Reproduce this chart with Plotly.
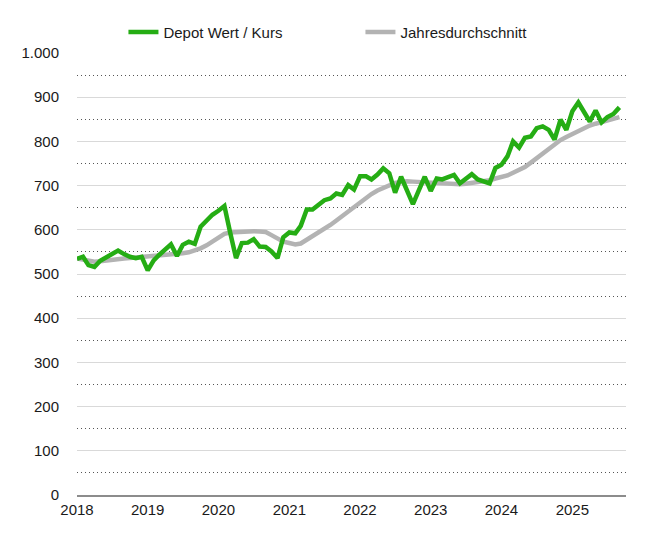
import pandas as pd
import plotly.graph_objects as go

# Monthly dates Jan 2018 .. Sep 2025
months = pd.date_range("2018-01-01", "2025-09-01", freq="MS")

depot = [
    # 2018
    534, 539, 520, 516, 530, 537, 545, 553, 545, 539, 536, 539,
    # 2019
    508, 531, 543, 555, 567, 541, 566, 573, 568, 607, 622, 634,
    # 2020
    643, 654, 595, 536, 570, 571, 579, 562, 561, 551, 536, 583,
    # 2021
    594, 592, 609, 646, 646, 658, 667, 671, 682, 679, 701, 691,
    # 2022
    721, 721, 714, 725, 739, 728, 684, 720, 690, 658, 690, 720,
    # 2023
    688, 716, 714, 718, 724, 705, 714, 726, 714, 709, 705, 740,
    # 2024
    747, 766, 800, 786, 808, 811, 830, 834, 826, 804, 849, 826,
    # 2025
    868, 888, 868, 845, 870, 843, 855, 862, 877,
]

jahresdurchschnitt = [
    # 2018
    535, 532, 529, 528, 529, 531, 532, 534, 535, 536, 537, 538,
    # 2019
    539, 541, 543, 544, 545, 546, 547, 549, 553, 558, 565, 573,
    # 2020
    582, 591, 594, 595, 595, 596, 597, 596, 595, 588, 580, 573,
    # 2021
    570, 567, 569, 577, 585, 593, 601, 611, 621, 631, 643, 653,
    # 2022
    663, 673, 681, 689, 695, 701, 706, 708, 710, 709, 708, 707,
    # 2023
    706, 705, 704, 703, 703, 703, 704, 706, 708, 709, 712, 716,
    # 2024
    719, 723, 729, 735, 742, 752, 762, 773, 784, 794, 803, 810,
    # 2025
    817, 824, 831, 836, 840, 844, 848, 852, 855,
]

year_ticks = pd.date_range("2018-01-01", "2025-01-01", freq="YS")
year_labels = [str(d.year) for d in year_ticks]

y_ticks = list(range(0, 1001, 100))

FONT = "Liberation Sans, Arial, Helvetica, sans-serif"
GREEN = "#25ad14"
GREY = "#b3b3b3"

fig = go.Figure()
fig.add_trace(go.Scatter(
    x=months, y=jahresdurchschnitt, mode="lines", name="Jahresdurchschnitt",
    line=dict(color=GREY, width=4.5),
))
fig.add_trace(go.Scatter(
    x=months, y=depot, mode="lines", name="Depot Wert / Kurs",
    line=dict(color=GREEN, width=4.5),
))

fig.update_layout(
    width=647, height=536,
    margin=dict(l=69, r=29, t=45, b=49, autoexpand=False),
    paper_bgcolor="white", plot_bgcolor="white",
    separators=",.",
    font=dict(family=FONT, size=15, color="#1a1a1a"),
    showlegend=True,
    legend=dict(
        orientation="h", x=0.0846, xanchor="left", y=1.047, yanchor="middle",
        font=dict(size=15, color="#1a1a1a"),
        traceorder="reversed",
        entrywidth=192, entrywidthmode="pixels",
        bgcolor="rgba(0,0,0,0)",
    ),
    xaxis=dict(
        type="date",
        range=["2018-01-01", "2025-10-05"],
        tickmode="array", tickvals=year_ticks, ticktext=year_labels,
        showgrid=False, zeroline=False,
        showline=True, linecolor="#8c8c8c", linewidth=1.5,
        ticks="", tickfont=dict(size=15),
    ),
    yaxis=dict(
        range=[0, 1000],
        tickmode="array", tickvals=y_ticks, tickformat=",d",
        showgrid=True, gridcolor="#d9d9d9", gridwidth=1,
        zeroline=False, showline=False, ticks="",
        ticklabelstandoff=17,
        tickfont=dict(size=15),
        minor=dict(dtick=50, showgrid=True, gridcolor="#555555",
                   griddash="1px,3px", gridwidth=1),
    ),
)

fig.write_html("out.html")
